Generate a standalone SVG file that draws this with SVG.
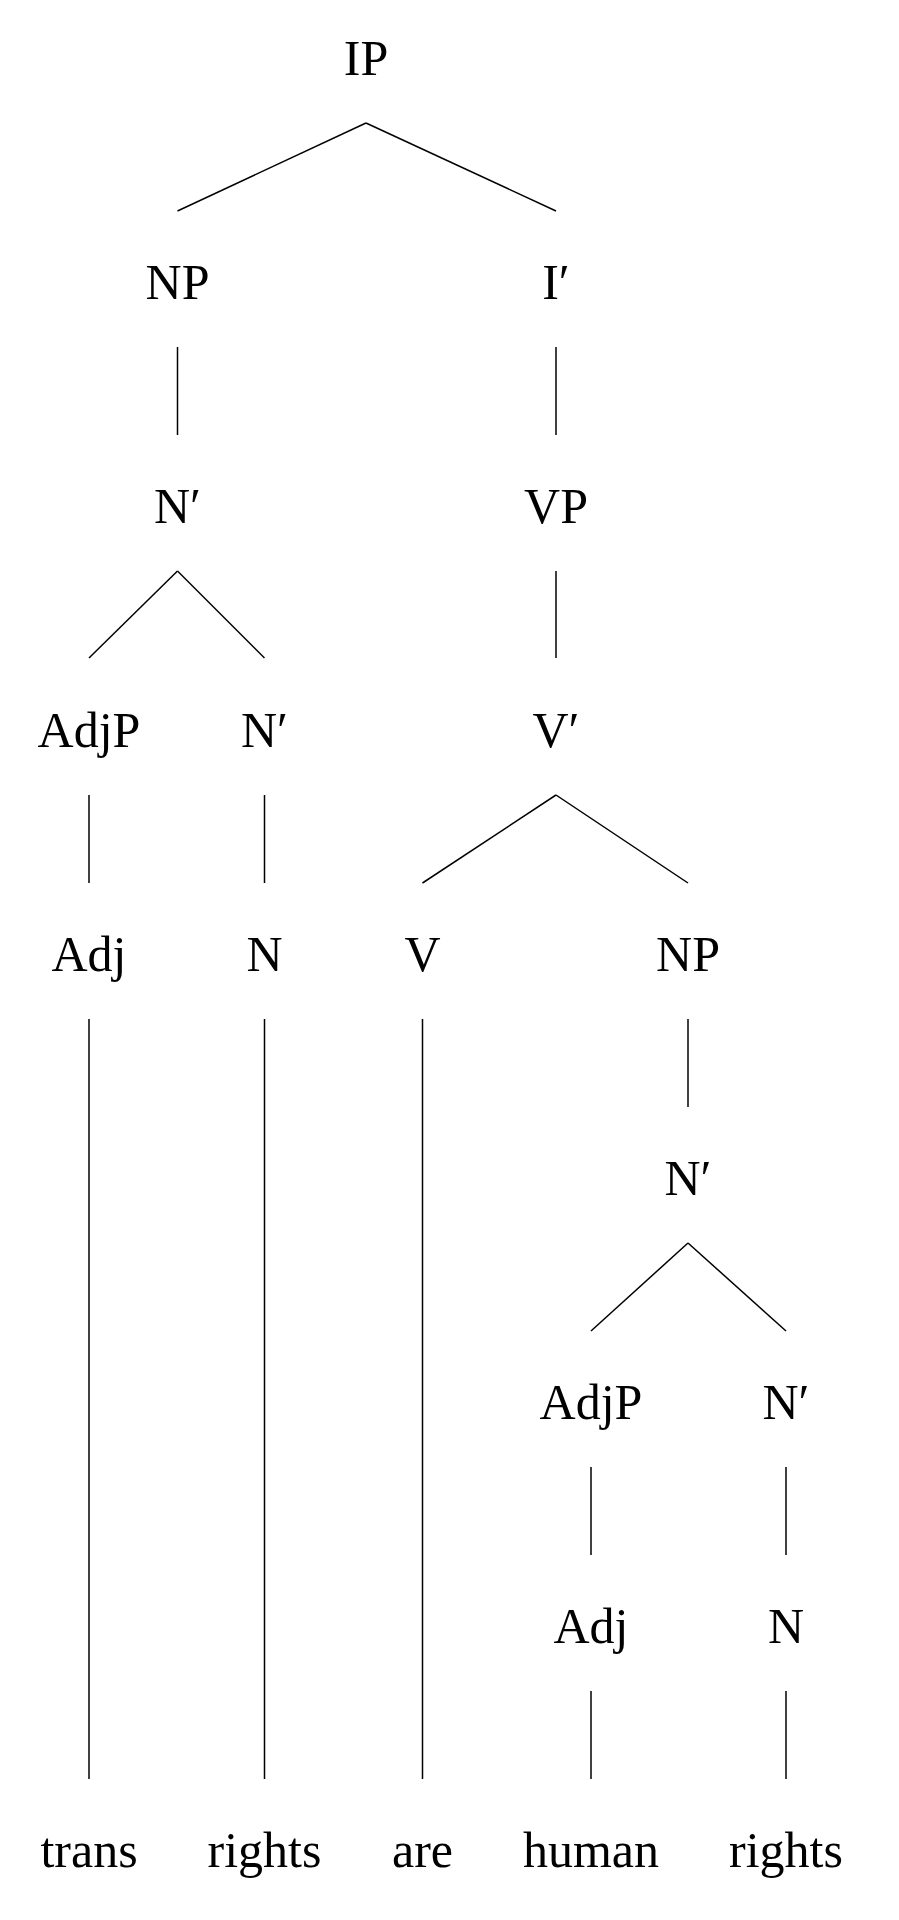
<svg xmlns="http://www.w3.org/2000/svg" width="899" height="1920" viewBox="0 0 899 1920">
<style>
text{font-family:"Liberation Serif","Times New Roman",serif;font-size:50px;fill:#000;text-anchor:middle}
.c line{stroke:#000;stroke-width:1.5;fill:none}
</style>
<rect width="899" height="1920" fill="#fff"/>
<g id="connectors" class="c">
<line x1="366" y1="123" x2="177.5" y2="211"/>
<line x1="366" y1="123" x2="556" y2="211"/>
<line x1="177.5" y1="347" x2="177.5" y2="435"/>
<line x1="556" y1="347" x2="556" y2="435"/>
<line x1="177.5" y1="571" x2="89" y2="658"/>
<line x1="177.5" y1="571" x2="264.5" y2="658"/>
<line x1="556" y1="571" x2="556" y2="658"/>
<line x1="89" y1="795" x2="89" y2="883"/>
<line x1="264.5" y1="795" x2="264.5" y2="883"/>
<line x1="556" y1="795" x2="422.5" y2="883"/>
<line x1="556" y1="795" x2="688" y2="883"/>
<line x1="89" y1="1019" x2="89" y2="1779"/>
<line x1="264.5" y1="1019" x2="264.5" y2="1779"/>
<line x1="422.5" y1="1019" x2="422.5" y2="1779"/>
<line x1="688" y1="1019" x2="688" y2="1107"/>
<line x1="688" y1="1243" x2="591" y2="1331"/>
<line x1="688" y1="1243" x2="786" y2="1331"/>
<line x1="591" y1="1467" x2="591" y2="1555"/>
<line x1="786" y1="1467" x2="786" y2="1555"/>
<line x1="591" y1="1691" x2="591" y2="1779"/>
<line x1="786" y1="1691" x2="786" y2="1779"/>
</g>
<g id="n-IP"><text x="366" y="75">IP</text></g>
<g id="n-NP1"><text x="177.5" y="299">NP</text></g>
<g id="n-I1"><text x="556" y="299">I′</text></g>
<g id="n-N1a"><text x="177.5" y="523">N′</text></g>
<g id="n-VP"><text x="556" y="523">VP</text></g>
<g id="n-AdjP1"><text x="89" y="747">AdjP</text></g>
<g id="n-N1b"><text x="264.5" y="747">N′</text></g>
<g id="n-V1"><text x="556" y="747">V′</text></g>
<g id="n-Adj1"><text x="89" y="971">Adj</text></g>
<g id="n-N1"><text x="264.5" y="971">N</text></g>
<g id="n-V"><text x="422.5" y="971">V</text></g>
<g id="n-NP2"><text x="688" y="971">NP</text></g>
<g id="n-N1c"><text x="688" y="1195">N′</text></g>
<g id="n-AdjP2"><text x="591" y="1419">AdjP</text></g>
<g id="n-N1d"><text x="786" y="1419">N′</text></g>
<g id="n-Adj2"><text x="591" y="1643">Adj</text></g>
<g id="n-N2"><text x="786" y="1643">N</text></g>
<g id="w-trans"><text x="89" y="1867">trans</text></g>
<g id="w-rights1"><text x="264.5" y="1867">rights</text></g>
<g id="w-are"><text x="422.5" y="1867">are</text></g>
<g id="w-human"><text x="591" y="1867">human</text></g>
<g id="w-rights2"><text x="786" y="1867">rights</text></g>
</svg>
